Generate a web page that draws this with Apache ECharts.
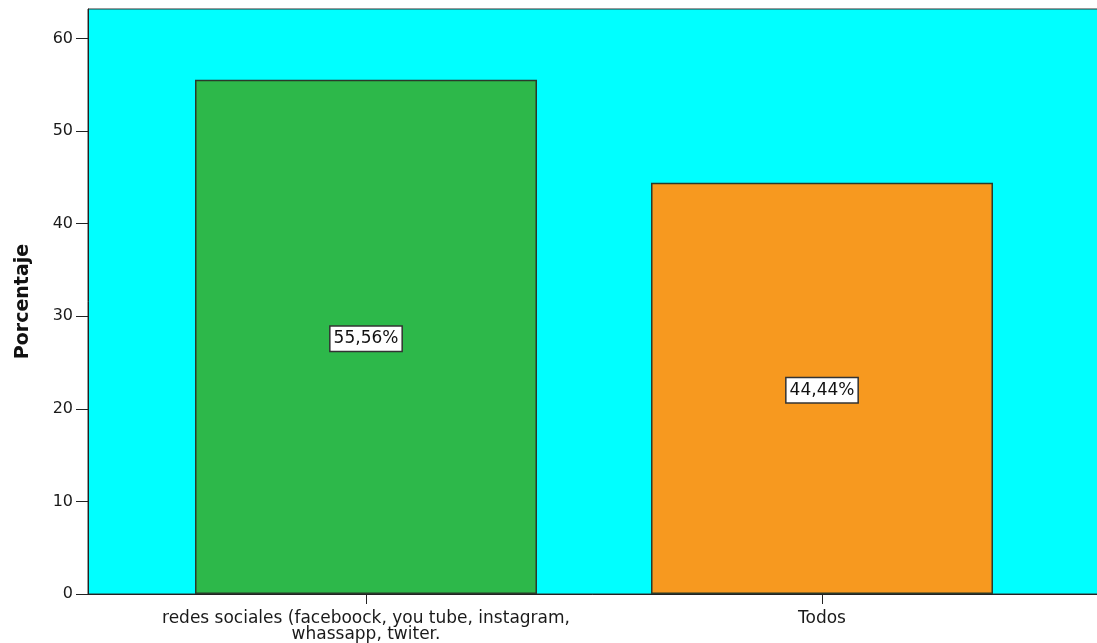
<!DOCTYPE html>
<html>
<head>
<meta charset="utf-8">
<script src="https://cdn.jsdelivr.net/npm/echarts@6/dist/echarts.min.js"></script>
<style>
  html, body { margin: 0; padding: 0; background: #ffffff; }
  #chart { width: 1097px; height: 643px; }
</style>
</head>
<body>
<div id="chart"></div>
<script>
// Categories and percentages shown by the bars
const categories = ['redes sociales (faceboock, you tube, instagram,\nwhassapp, twiter.', 'Todos'];
const percentages = [55.56, 44.44];
const barColors = ['#2db84a', '#f7991f'];
const yTicks = [0, 10, 20, 30, 40, 50, 60];

const Y_MAX = 63.2;
const FONT = '"DejaVu Sans", Arial, sans-serif';

const chart = echarts.init(document.getElementById('chart'), null, { renderer: 'canvas' });

chart.setOption({
  animation: false,
  backgroundColor: '#ffffff',
  grid: [
    // outer frame: cyan plot area carrying the value axis (right edge runs off the page)
    { left: 88, width: 1030, top: 9, bottom: 49, show: true, backgroundColor: '#00ffff',
      borderColor: '#333333', borderWidth: 1, outerBoundsMode: 'none', containLabel: false },
    // inner band where the two categories sit
    { left: 138, right: 47, top: 9, bottom: 49, outerBoundsMode: 'none', containLabel: false }
  ],
  xAxis: [
    { gridIndex: 0, type: 'value', min: 0, max: 1, show: true,
      axisLine: { show: true, onZero: false, lineStyle: { color: '#222222', width: 1 } },
      axisTick: { show: false }, axisLabel: { show: false }, splitLine: { show: false } },
    { gridIndex: 1, type: 'category', data: categories,
      axisLine: { show: false },
      axisTick: { show: true, alignWithLabel: true, length: 10, lineStyle: { color: '#222222' } },
      axisLabel: { color: '#1a1a1a', fontFamily: FONT, fontSize: 17, lineHeight: 16, margin: 17, interval: 0 } }
  ],
  yAxis: [
    { gridIndex: 0, type: 'value', min: 0, max: Y_MAX, interval: 10,
      name: 'Porcentaje', nameLocation: 'middle', nameGap: 55, nameRotate: 90,
      nameTextStyle: { color: '#111111', fontFamily: FONT, fontSize: 19, fontWeight: 'bold' },
      axisLine: { show: true, lineStyle: { color: '#222222', width: 1 } },
      axisTick: { show: true, length: 12, customValues: yTicks, lineStyle: { color: '#222222' } },
      axisLabel: { color: '#1a1a1a', fontFamily: FONT, fontSize: 16, margin: 15, customValues: yTicks },
      splitLine: { show: false } },
    { gridIndex: 1, type: 'value', min: 0, max: Y_MAX, show: false, splitLine: { show: false } }
  ],
  series: [{
    type: 'bar',
    xAxisIndex: 1,
    yAxisIndex: 1,
    barWidth: '75%',
    data: percentages.map((v, i) => ({
      value: v,
      itemStyle: { color: barColors[i], borderColor: '#2a3a2a', borderWidth: 1.5 }
    })),
    label: {
      show: true,
      position: 'inside',
      formatter: p => p.value.toFixed(2).replace('.', ',') + '%',
      color: '#111111',
      fontFamily: FONT,
      fontSize: 17,
      backgroundColor: '#ffffff',
      borderColor: '#333333',
      borderWidth: 1.5,
      padding: [4, 3, 3, 3],
      offset: [0, 2]
    }
  }]
});
</script>
</body>
</html>
